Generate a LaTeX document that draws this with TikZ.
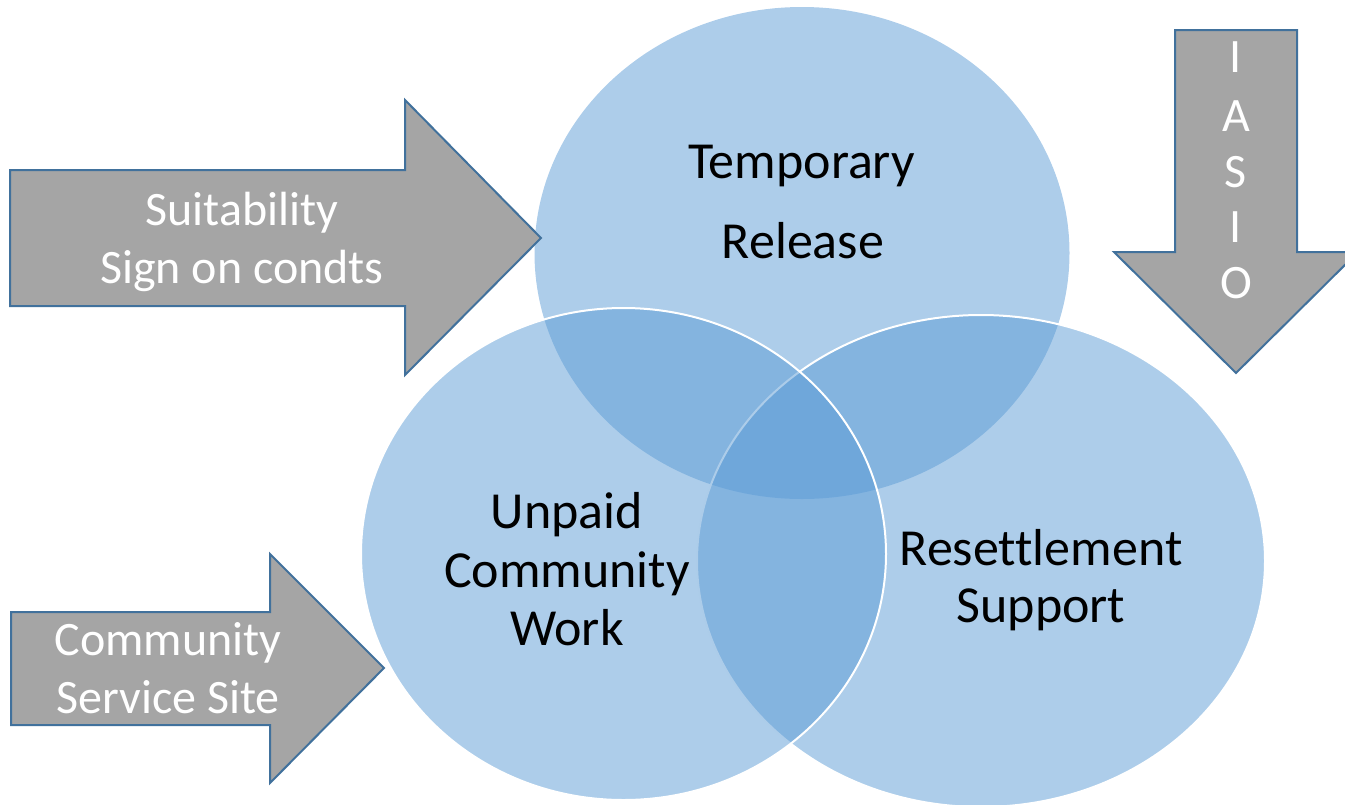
\documentclass[tikz,border=0pt]{standalone}
\usepackage{fontspec}
\setmainfont{Carlito}[Ligatures=NoCommon]
\usetikzlibrary{shapes.geometric}
\definecolor{vennblue}{HTML}{5B9BD5}
\definecolor{arrowgray}{HTML}{A5A5A5}
\definecolor{arrowedge}{HTML}{41719C}
\begin{document}
\begin{tikzpicture}[x=1pt,y=-1pt,
  venn/.style={ellipse, fill=vennblue, fill opacity=0.5, inner sep=0pt, outer sep=0pt},
  vennedge/.style={draw=white, draw opacity=1, line width=2pt},
  bigarrow/.style={fill=arrowgray, draw=arrowedge, line width=2pt, line join=miter},
  circlelabel/.style={anchor=base, font=\fontsize{52}{62}\selectfont, text=black, inner sep=0pt},
  arrowlabel/.style={anchor=base, font=\fontsize{48}{56}\selectfont, text=white, inner sep=0pt}]
\useasboundingbox (0,0) rectangle (1345,804);
\clip (0,0) rectangle (1345,804);

% Venn circles (drawing order: top, right, left)
\node[venn, minimum width=535pt, minimum height=492pt] (ctop) at (802,253) {};
\node[venn, vennedge, minimum width=568pt, minimum height=492pt] (cright) at (981,561) {};
\node[venn, vennedge, minimum width=525pt, minimum height=492pt] (cleft) at (623.5,554) {};

% circle labels
\node[circlelabel] (tr1) at (801.5,178) {Temporary};
\node[circlelabel] (tr2) at (803,258) {Release};
\node[circlelabel] (uc1) at (567,528) {Unpaid};
\node[circlelabel] (uc2) at (567,587) {Community};
\node[circlelabel] (uc3) at (567,645) {Work};
\node[circlelabel] (rs1) at (1041,565) {Resettlement};
\node[circlelabel] (rs2) at (1041,622) {Support};

% left upper arrow
\draw[bigarrow] (10,170) -- (405,170) -- (405,100) -- (541,238) -- (405,375) -- (405,306) -- (10,306) -- cycle;
\node[arrowlabel] (su1) at (242,225) {Suitability};
\node[arrowlabel] (su2) at (242,283) {Sign on condts};

% left lower arrow
\draw[bigarrow] (11,612) -- (270,612) -- (270,554) -- (384,668) -- (270,783) -- (270,725) -- (11,725) -- cycle;
\node[arrowlabel] (cs1) at (168,655) {Community};
\node[arrowlabel] (cs2) at (168,713) {Service Site};

% down arrow
\draw[bigarrow] (1175,30) -- (1297,30) -- (1297,252) -- (1358,252) -- (1236,373) -- (1114,252) -- (1175,252) -- cycle;
\node[arrowlabel] (ia1) at (1236,72) {I};
\node[arrowlabel] (ia2) at (1236,131) {A};
\node[arrowlabel] (ia3) at (1236,187) {S};
\node[arrowlabel] (ia4) at (1236,242) {I};
\node[arrowlabel] (ia5) at (1236,298) {O};
\end{tikzpicture}
\end{document}
